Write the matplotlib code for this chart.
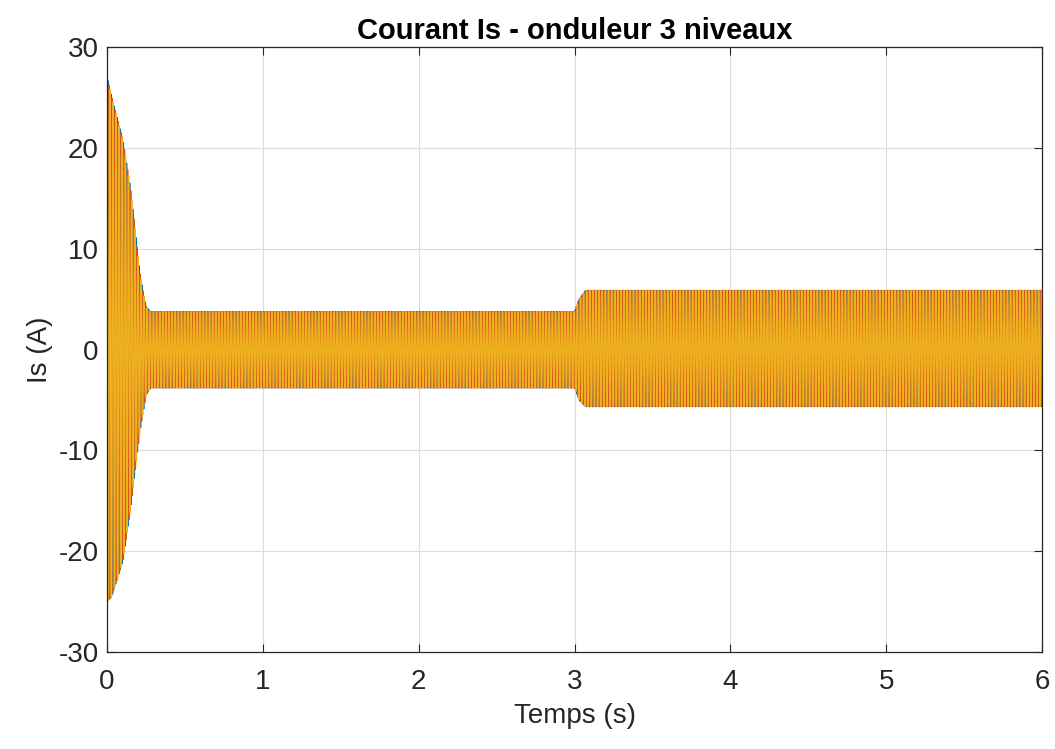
import numpy as np
import matplotlib
matplotlib.use("Agg")
import matplotlib.pyplot as plt

# ---------- Data ----------
# envelope of the stator current (peak values read per instant)
t_env = [0.0, 0.03, 0.10, 0.15, 0.21, 0.25, 0.28, 3.00, 3.03, 3.07, 6.00]
i_upper = [27.0, 25.0, 21.0, 16.0, 7.6, 4.3, 3.75, 3.75, 5.0, 5.85, 5.85]
i_lower = [-25.0, -24.5, -21.0, -16.0, -8.2, -4.5, -3.8, -3.8, -5.0, -5.65, -5.65]
f_elec = 50.0            # Hz
phase_shift = [0.0, -2 * np.pi / 3, 2 * np.pi / 3]
phase_colors = ["#0072BD", "#D95319", "#EDB120"]

xticks = [0, 1, 2, 3, 4, 5, 6]
yticks = [-30, -20, -10, 0, 10, 20, 30]

# ---------- Signals ----------
t = np.linspace(0, 6, 60001)
up = np.interp(t, t_env, i_upper)
lo = np.interp(t, t_env, i_lower)
amp = (up - lo) / 2
off = (up + lo) / 2

plt.rcParams["font.family"] = ["Liberation Sans", "DejaVu Sans"]
plt.rcParams["axes.unicode_minus"] = False

fig = plt.figure(figsize=(10.55, 7.49), dpi=100)
ax = fig.add_axes([0.1014, 0.1295, 0.8863, 0.8077])

for ph, c in zip(phase_shift, phase_colors):
    ax.plot(t, off + amp * np.sin(2 * np.pi * f_elec * t + ph), color=c, lw=1.1)

ax.set_xlim(0, 6)
ax.set_ylim(-30, 30)
ax.set_xticks(xticks)
ax.set_yticks(yticks)
ax.tick_params(direction="in", top=True, right=True, labelsize=20,
               length=6, width=0.8, colors="#262626")
ax.tick_params(axis="x", pad=12)
ax.tick_params(axis="y", pad=6)
ax.grid(True, color="#dcdcdc", lw=0.8)
ax.set_axisbelow(True)
for s in ax.spines.values():
    s.set_color("#262626")
    s.set_linewidth(0.9)

ax.set_xlabel("Temps (s)", fontsize=20, color="#262626", labelpad=6)
ax.set_ylabel("Is (A)", fontsize=20, color="#262626", labelpad=4)
ax.set_title("Courant Is - onduleur 3 niveaux", fontsize=21, fontweight="bold", pad=6)

fig.savefig("out.png", dpi=100)
